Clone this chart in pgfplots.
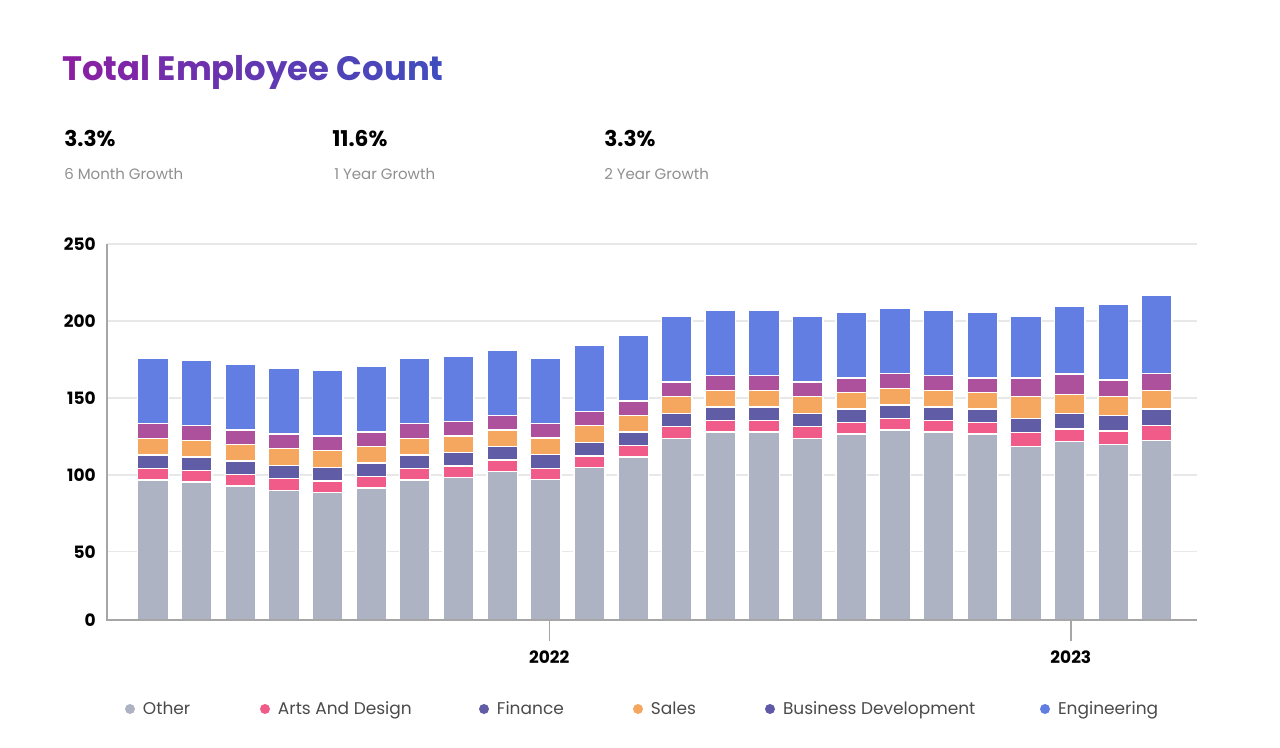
\documentclass[border=0pt]{standalone}
\usepackage{fontspec}
\setmainfont{Poppins}
\usepackage{pgfplots}
\usepackage{pgfplotstable}
\pgfplotsset{compat=1.18}

\definecolor{cOther}{HTML}{AEB3C4}
\definecolor{cArts}{HTML}{F05B89}
\definecolor{cFin}{HTML}{615CA6}
\definecolor{cSales}{HTML}{F6A75F}
\definecolor{cBD}{HTML}{AD519C}
\definecolor{cEng}{HTML}{627EE2}
\definecolor{cBDleg}{HTML}{5F59A6}
\definecolor{tpurple}{HTML}{8A1FA2}
\definecolor{tblue}{HTML}{3F4DBE}
\definecolor{gridc}{HTML}{E8E8E8}
\definecolor{axc}{HTML}{A6A6A6}
\definecolor{legtext}{HTML}{4A4A4A}
\definecolor{subtext}{HTML}{8F8F8F}

\newcommand\tl[2]{\textcolor{tblue!#1!tpurple}{#2}}

\pgfplotstableread{
x other arts fin sales bd eng
0 96.7 7.5 8.8 10.6 9.6 42.5
1 95.4 7.5 8.7 10.8 9.5 42.5
2 92.6 7.5 8.9 10.7 9.4 42.7
3 89.9 7.6 8.7 10.8 9.4 42.6
4 88.6 7.5 8.8 10.8 9.4 42.6
5 91.4 7.4 8.9 10.6 9.4 42.8
6 96.7 7.5 8.8 10.6 9.6 42.5
7 98.1 7.5 8.8 10.8 9.3 42.7
8 102.3 7.3 8.8 10.8 9.4 42.5
9 96.8 7.4 8.9 10.8 9.3 42.7
10 104.9 7.4 8.8 10.8 9.4 42.6
11 111.6 7.6 8.6 10.9 9.3 42.7
12 123.7 7.6 8.7 10.8 9.4 42.6
13 127.8 7.6 8.7 10.8 9.5 42.6
14 127.8 7.6 8.7 10.8 9.5 42.6
15 123.7 7.6 8.7 10.8 9.4 42.6
16 126.5 7.4 8.9 10.7 9.4 42.7
17 129.1 7.6 8.7 10.8 9.6 42.5
18 127.8 7.6 8.7 10.8 9.5 42.6
19 126.5 7.4 8.9 10.7 9.4 42.7
20 118.3 9.2 9.2 14.1 12.1 39.9
21 121.8 8.1 9.8 12.5 13.3 44.1
22 119.6 8.9 10.2 12.1 10.8 49.5
23 122.4 9.5 10.8 12.1 10.9 50.8
}\datatable

\begin{document}
\begin{tikzpicture}[x=1pt,y=1pt]
\useasboundingbox (0,0) rectangle (960,560.25);

\node[anchor=base west, inner sep=0pt, font=\bfseries\fontsize{25.4}{29}\selectfont] at (46.5,499.5)
 {\tl{0}{T}\tl{5}{o}\tl{11}{t}\tl{16}{a}\tl{21}{l} \tl{32}{E}\tl{37}{m}\tl{42}{p}\tl{47}{l}\tl{53}{o}\tl{58}{y}\tl{63}{e}\tl{68}{e} \tl{79}{C}\tl{84}{o}\tl{89}{u}\tl{95}{n}\tl{100}{t}};

\node[anchor=base west, inner sep=0pt, font=\bfseries\fontsize{16.3}{19}\selectfont] at (48,450) {3.3\%};
\node[anchor=base west, inner sep=0pt, font=\bfseries\fontsize{16.3}{19}\selectfont] at (249,450) {11.6\%};
\node[anchor=base west, inner sep=0pt, font=\bfseries\fontsize{16.3}{19}\selectfont] at (453,450) {3.3\%};
\node[anchor=base west, inner sep=0pt, text=subtext, font=\fontsize{11.25}{13}\selectfont] at (48,425.25) {6 Month Growth};
\node[anchor=base west, inner sep=0pt, text=subtext, font=\fontsize{11.25}{13}\selectfont] at (250.5,425.25) {1 Year Growth};
\node[anchor=base west, inner sep=0pt, text=subtext, font=\fontsize{11.25}{13}\selectfont] at (453,425.25) {2 Year Growth};

\begin{axis}[
  name=ax,
  at={(80.25pt,95.25pt)}, anchor=south west,
  width=817.5pt, height=282pt, scale only axis,
  ybar stacked, bar width=23pt,
  xmin=-1.054, xmax=23.92, ymin=5.6, ymax=250,
  ytick={50,100,150,200,250},
  extra y ticks={5.6}, extra y tick labels={0},
  extra y tick style={grid=none, tick style={draw=none}},
  xtick={9.08,21.03}, xticklabels={2022,2023},
  axis x line*=bottom, axis y line*=left,
  axis line style={-, draw=axc, line width=1.3pt},
  ymajorgrids, grid style={gridc, line width=1.1pt},
  tick align=outside, major tick length=15.75pt,
  xtick style={draw=axc, line width=1.1pt},
  ytick style={draw=none},
  /pgf/number format/assume math mode=true,
  tick label style={font=\bfseries\fontsize{12.75}{15}\selectfont, text=black},
  yticklabel style={inner sep=0pt, anchor=east, xshift=7.5pt},
  xticklabel style={inner sep=0pt, anchor=north, yshift=-7.5pt},
  legend columns=6,
  legend style={at={(0.01651,-0.2367)}, anchor=west, draw=none, fill=none,
    inner sep=0pt, outer sep=0pt,
    /tikz/every odd column/.append style={column sep=6pt},
    nodes={inner sep=0pt, anchor=west, text=legtext, font=\fontsize{12.75}{15}\selectfont}},
  legend image code/.code={\fill[#1,draw=none] (3.75pt,0pt) circle (3.75pt);},
]
\addlegendimage{fill=cOther}
\addlegendimage{fill=cArts}
\addlegendimage{fill=cFin}
\addlegendimage{fill=cSales}
\addlegendimage{fill=cBDleg}
\addlegendimage{fill=cEng}
\addplot[fill=cOther, draw=white, line width=1.1pt] table[x=x,y=other]{\datatable};
\addplot[fill=cArts, draw=white, line width=1.1pt] table[x=x,y=arts]{\datatable};
\addplot[fill=cFin, draw=white, line width=1.1pt] table[x=x,y=fin]{\datatable};
\addplot[fill=cSales, draw=white, line width=1.1pt] table[x=x,y=sales]{\datatable};
\addplot[fill=cBD, draw=white, line width=1.1pt] table[x=x,y=bd]{\datatable};
\addplot[fill=cEng, draw=white, line width=1.1pt] table[x=x,y=eng]{\datatable};
\legend{\makebox[87.75pt][l]{Other},\makebox[150.75pt][l]{Arts And Design},\makebox[102pt][l]{Finance},\makebox[85.5pt][l]{Sales},\makebox[192.75pt][l]{Business Development},\makebox[75pt][l]{Engineering}}
\end{axis}
\draw[axc, line width=1.3pt] ([xshift=-0.65pt]ax.south west) -- (ax.south east);
\end{tikzpicture}
\end{document}
